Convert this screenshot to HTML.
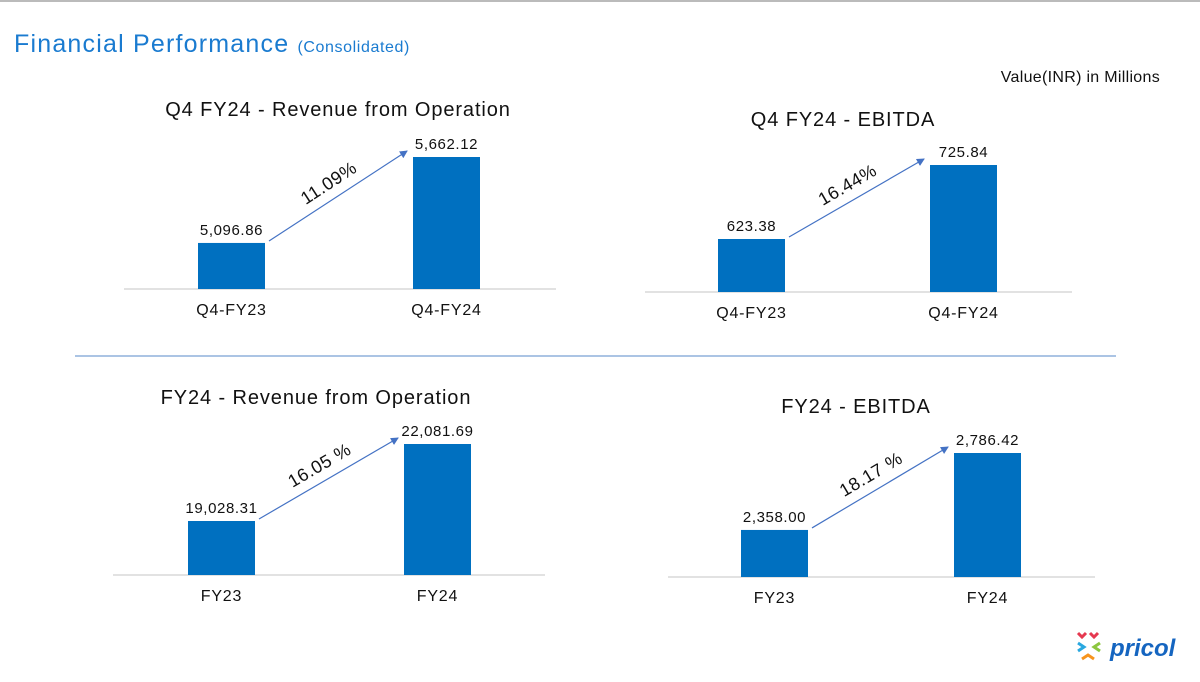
<!DOCTYPE html>
<html><head><meta charset="utf-8">
<style>
body{margin:0;width:1200px;height:677px;background:#fff;overflow:hidden;font-family:"Liberation Sans",sans-serif;}
</style></head>
<body>
<svg id="s" width="1200" height="677" xmlns="http://www.w3.org/2000/svg">
<defs><marker id="ah" markerWidth="8" markerHeight="8" refX="7" refY="4" orient="auto" markerUnits="userSpaceOnUse"><path d="M0,0 L8,4 L0,8 z" fill="#4472c4"/></marker></defs>
<line x1="0" y1="1" x2="1200" y2="1" stroke="#bbb" stroke-width="2"/>
<text x="14" y="52" font-size="25" fill="#1a7bd0" letter-spacing="1.2">Financial Performance <tspan font-size="16" letter-spacing="0.6">(Consolidated)</tspan></text>
<text x="1160" y="82" font-size="16" fill="#111" text-anchor="end" letter-spacing="0.3">Value(INR) in Millions</text>
<line x1="75" y1="356" x2="1116" y2="356" stroke="#8fb0dc" stroke-width="1.5"/>
<g>
<path d="M1078,633 l4,4 l4,-4 M1090,633 l4,4 l4,-4" stroke="#e63950" stroke-width="3" fill="none"/>
<path d="M1078,643 l6,4 l-6,4" stroke="#2aa8e0" stroke-width="3" fill="none"/>
<path d="M1100,643 l-6,4 l6,4" stroke="#8cc63f" stroke-width="3" fill="none"/>
<path d="M1082,659 l6,-4 l6,4" stroke="#f7941d" stroke-width="3" fill="none"/>
<text x="1110" y="656" font-size="24" font-style="italic" font-weight="bold" fill="#1565c0">pricol</text>
</g>
</svg>
<script>
const chartTitles=["Q4 FY24 - Revenue from Operation","Q4 FY24 - EBITDA","FY24 - Revenue from Operation","FY24 - EBITDA"];
const categories=[["Q4-FY23","Q4-FY24"],["Q4-FY23","Q4-FY24"],["FY23","FY24"],["FY23","FY24"]];
const values=[[5096.86,5662.12],[623.38,725.84],[19028.31,22081.69],[2358.00,2786.42]];
const valueLabels=[["5,096.86","5,662.12"],["623.38","725.84"],["19,028.31","22,081.69"],["2,358.00","2,786.42"]];
const growthLabels=["11.09%","16.44%","16.05 %","18.17 %"];
const axisMin=[4794,550,16887,2096];
const layouts=[
 {x0:124,x1:556,base:289,b1:198,b2:413,scaleH:132,titleX:338,titleY:116},
 {x0:645,x1:1072,base:292,b1:718,b2:930,scaleH:127,titleX:843,titleY:126},
 {x0:113,x1:545,base:575,b1:188,b2:404,scaleH:131,titleX:316,titleY:404},
 {x0:668,x1:1095,base:577,b1:741,b2:954,scaleH:124,titleX:856,titleY:413}
];
const S=document.getElementById('s');const NS="http://www.w3.org/2000/svg";
function mk(t,a,txt){const e=document.createElementNS(NS,t);for(const k in a)e.setAttribute(k,a[k]);if(txt!==undefined)e.textContent=txt;S.appendChild(e);return e;}
layouts.forEach((L,i)=>{
 const vmax=Math.max(...values[i]);
 const y=v=>L.base-(v-axisMin[i])/(vmax-axisMin[i])*L.scaleH;
 const bw=67;
 let e=mk('text',{x:L.titleX,y:L.titleY,'font-size':20,fill:'#111','text-anchor':'middle','letter-spacing':0.9},chartTitles[i]);
 
 
 e=mk('line',{x1:L.x0,y1:L.base,x2:L.x1,y2:L.base,stroke:'#d9d9d9','stroke-width':1.5});
 
 
 const xs=[L.b1,L.b2];
 values[i].forEach((v,j)=>{
  const top=y(v);
  let r=mk('rect',{x:xs[j],y:top,width:bw,height:L.base-top,fill:'#0070c0'});
  
  
  let t=mk('text',{x:xs[j]+bw/2,y:top-8,'font-size':15,fill:'#111','text-anchor':'middle','letter-spacing':0.6},valueLabels[i][j]);
  
  
  let c=mk('text',{x:xs[j]+bw/2,y:L.base+26,'font-size':16,fill:'#111','text-anchor':'middle','letter-spacing':0.8},categories[i][j]);
  
  
 });
 const ax1=L.b1+bw+4,ay1=y(values[i][0])-2,ax2=L.b2-6,ay2=y(values[i][1])-6;
 let a=mk('line',{x1:ax1,y1:ay1,x2:ax2,y2:ay2,stroke:'#4472c4','stroke-width':1.2,'marker-end':'url(#ah)'});
 
 
 const ang=Math.atan2(ay2-ay1,ax2-ax1)*180/Math.PI;
 const mx=(ax1+ax2)/2-6,my=(ay1+ay2)/2-8;
 let g=mk('text',{x:mx,y:my,'font-size':18,fill:'#111','text-anchor':'middle','letter-spacing':0.5,transform:`rotate(${ang} ${mx} ${my})`},growthLabels[i]);
 
 
});
</script>
</body></html>
